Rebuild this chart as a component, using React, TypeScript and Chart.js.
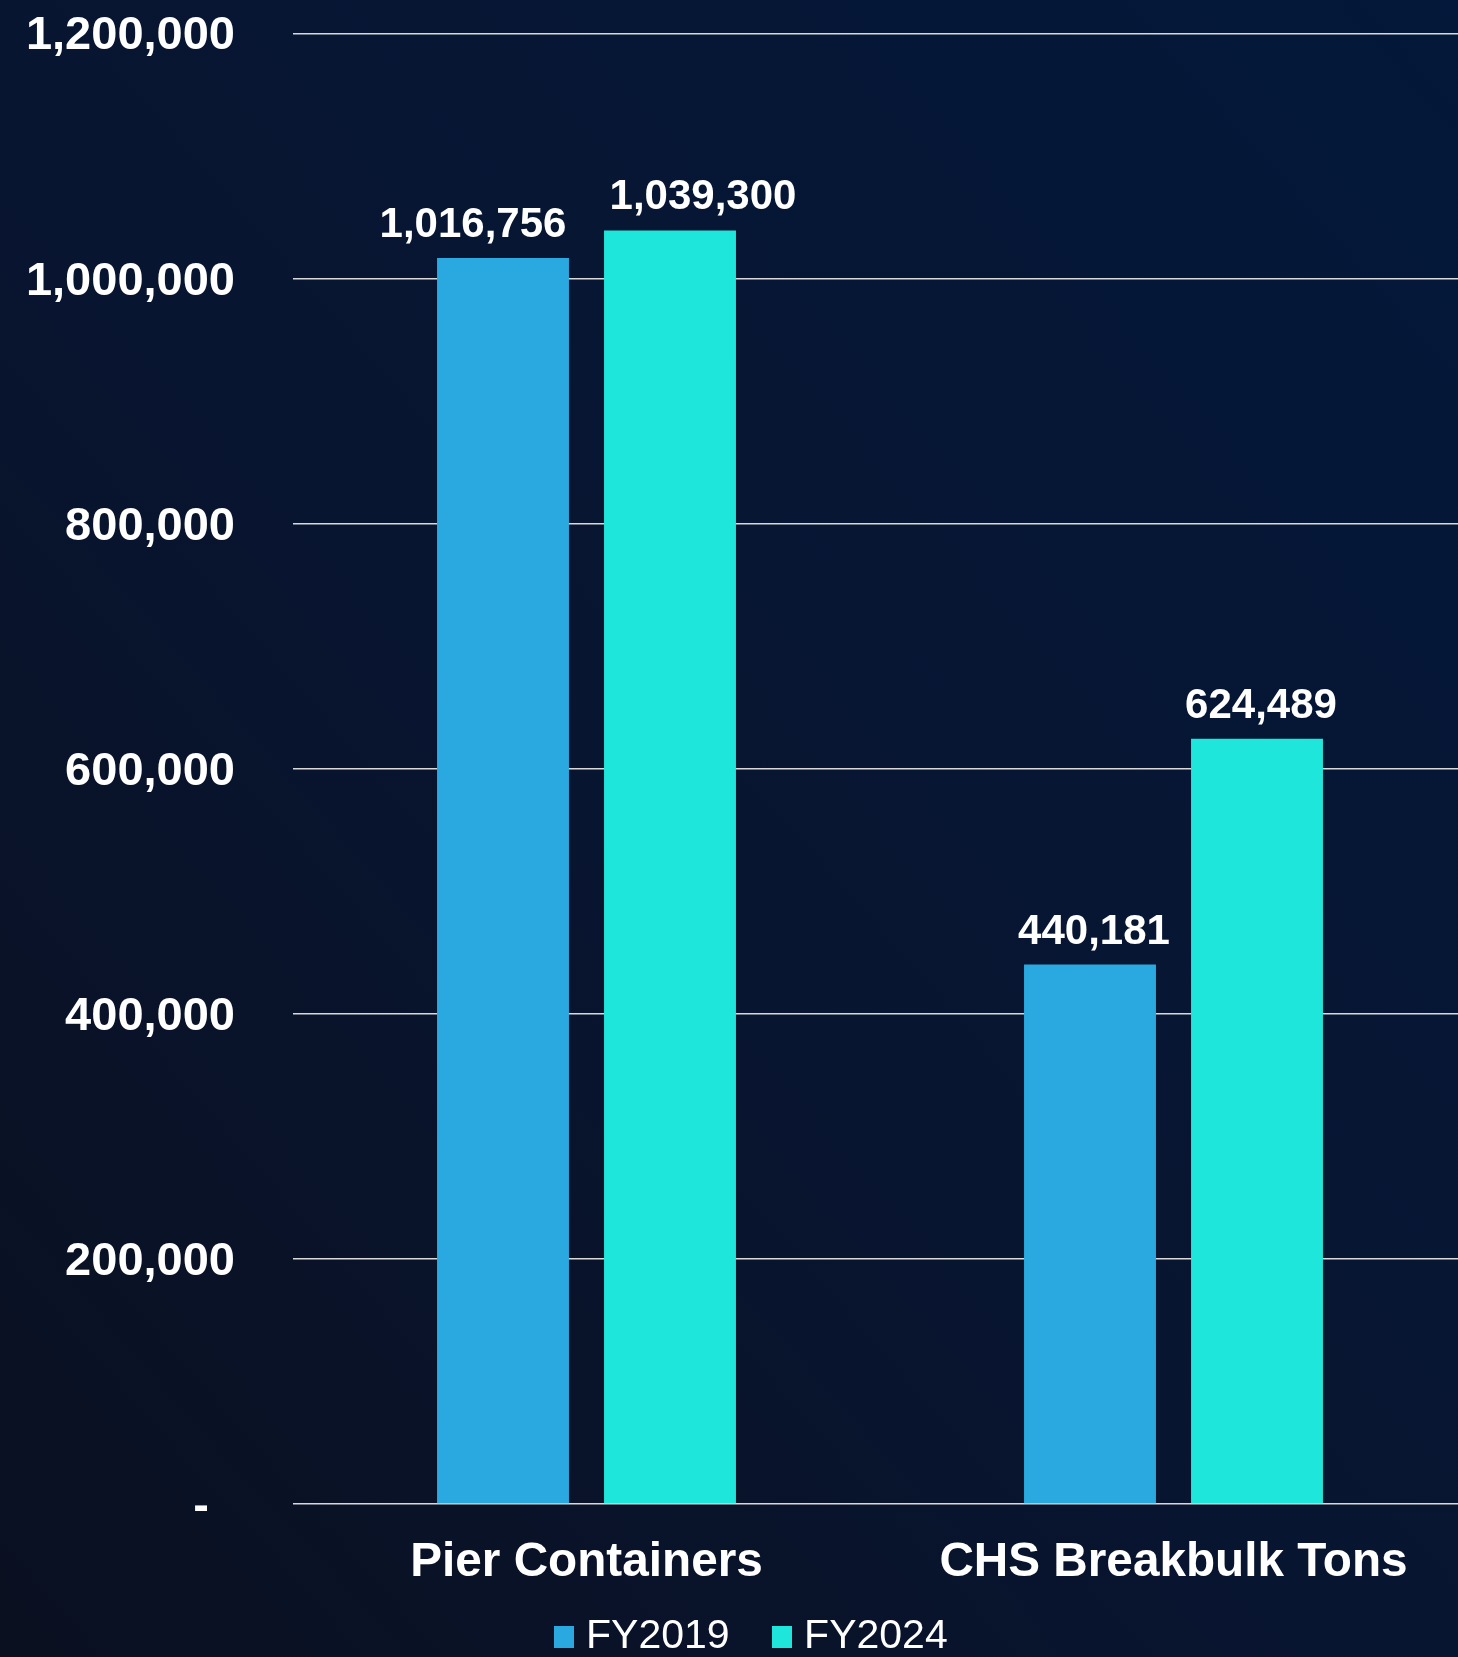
import React, { useEffect, useRef } from "react";
import { Chart, registerables } from "chart.js";

Chart.register(...registerables);

const categories = ["Pier Containers", "CHS Breakbulk Tons"];
const seriesNames = ["FY2019", "FY2024"];
const fy2019 = [1016756, 440181];
const fy2024 = [1039300, 624489];
const yTicks = [0, 200000, 400000, 600000, 800000, 1000000, 1200000];

const colors = ["#29A9E0", "#1FE6DA"];
const FONT = '"Liberation Sans", Arial, Helvetica, sans-serif';

const fmt = (v: number) => v.toLocaleString("en-US");

const valueLabels = {
  id: "valueLabels",
  afterDatasetsDraw(chart: any, _args: any, opts: any) {
    const ctx = chart.ctx;
    ctx.save();
    ctx.font = `bold ${opts.size}px ${FONT}`;
    ctx.fillStyle = opts.color;
    ctx.textAlign = "center";
    ctx.textBaseline = "alphabetic";
    chart.data.datasets.forEach((ds: any, di: number) => {
      const meta = chart.getDatasetMeta(di);
      meta.data.forEach((bar: any, i: number) => {
        const dx = (opts.nudgeX && opts.nudgeX[di] && opts.nudgeX[di][i]) || 0;
        ctx.fillText(fmt(ds.data[i]), bar.x + dx, bar.y - opts.gap);
      });
    });
    ctx.restore();
  },
};

const legendShift = {
  id: "legendShift",
  afterLayout(chart: any, _args: any, opts: any) {
    const lg = chart.legend;
    if (lg) {
      lg.left += opts.dx;
      lg.right += opts.dx;
      lg.top += opts.dy;
      lg.bottom += opts.dy;
    }
  },
};

function makeSwatch(color: string) {
  const c = document.createElement("canvas");
  c.width = 20;
  c.height = 22;
  const g = c.getContext("2d");
  if (g) {
    g.fillStyle = color;
    g.fillRect(0, 0, 20, 22);
  }
  return c;
}

export default function App() {
  const ref = useRef<HTMLCanvasElement | null>(null);

  useEffect(() => {
    if (!ref.current) return;
    const swatches = colors.map(makeSwatch);
    const chart = new Chart(ref.current, {
      type: "bar",
      data: {
        labels: categories,
        datasets: [
          {
            label: seriesNames[0],
            data: fy2019,
            backgroundColor: colors[0],
            borderWidth: 0,
            categoryPercentage: 0.569,
            barPercentage: 0.79,
          },
          {
            label: seriesNames[1],
            data: fy2024,
            backgroundColor: colors[1],
            borderWidth: 0,
            categoryPercentage: 0.569,
            barPercentage: 0.79,
          },
        ],
      },
      options: {
        responsive: false,
        animation: false,
        devicePixelRatio: 1,
        layout: { padding: { top: 33.5, left: 26, right: 13, bottom: 15 } },
        scales: {
          x: {
            grid: { display: false, drawTicks: false },
            border: { display: false },
            ticks: {
              color: "#FFFFFF",
              font: { family: FONT, size: 47.7, weight: "bold" },
              padding: 30,
            },
            afterFit: (a: any) => {
              a.height = 80;
              a.paddingLeft = 0;
              a.paddingRight = 0;
            },
          },
          y: {
            min: 0,
            max: 1200000,
            afterBuildTicks: (axis: any) => {
              axis.ticks = yTicks.map((v) => ({ value: v }));
            },
            grid: { color: "#D9D9D9", lineWidth: 1.5, drawTicks: false },
            border: { display: false },
            ticks: {
              color: "#FFFFFF",
              font: { family: FONT, size: 47, weight: "bold" },
              padding: 58,
              labelOffset: 3,
              callback: (v: any) => (Number(v) === 0 ? "-  " : fmt(Number(v))),
            },
            afterFit: (a: any) => {
              a.width = 267;
              a.paddingTop = 0;
              a.paddingBottom = 0;
            },
          },
        },
        plugins: {
          legend: {
            position: "bottom",
            labels: {
              color: "#FFFFFF",
              font: { family: FONT, size: 41, weight: "normal" },
              usePointStyle: true,
              pointStyleWidth: 3,
              boxHeight: 22,
              padding: 51,
              generateLabels: (chart: any) =>
                chart.data.datasets.map((ds: any, i: number) => ({
                  text: ds.label,
                  fillStyle: ds.backgroundColor,
                  strokeStyle: ds.backgroundColor,
                  lineWidth: 0,
                  hidden: false,
                  datasetIndex: i,
                  pointStyle: swatches[i],
                  fontColor: "#FFFFFF",
                })),
            },
          },
          tooltip: { enabled: false },
          valueLabels: { size: 42, color: "#FFFFFF", gap: 21, nudgeX: [[-30, 4], [33, 4]] },
          legendShift: { dx: 8.6, dy: -19 },
        } as any,
      },
      plugins: [valueLabels, legendShift],
    });
    return () => chart.destroy();
  }, []);

  return (
    <div
      style={{
        position: "fixed",
        left: 0,
        top: 0,
        width: 1458,
        height: 1657,
        overflow: "hidden",
        background:
          "linear-gradient(to top right, #0A1020 0%, #081530 45%, #03183A 100%)",
      }}
    >
      <canvas
        ref={ref}
        width={1480}
        height={1701}
        style={{ position: "absolute", left: 0, top: 0, width: 1480, height: 1701 }}
      />
    </div>
  );
}
